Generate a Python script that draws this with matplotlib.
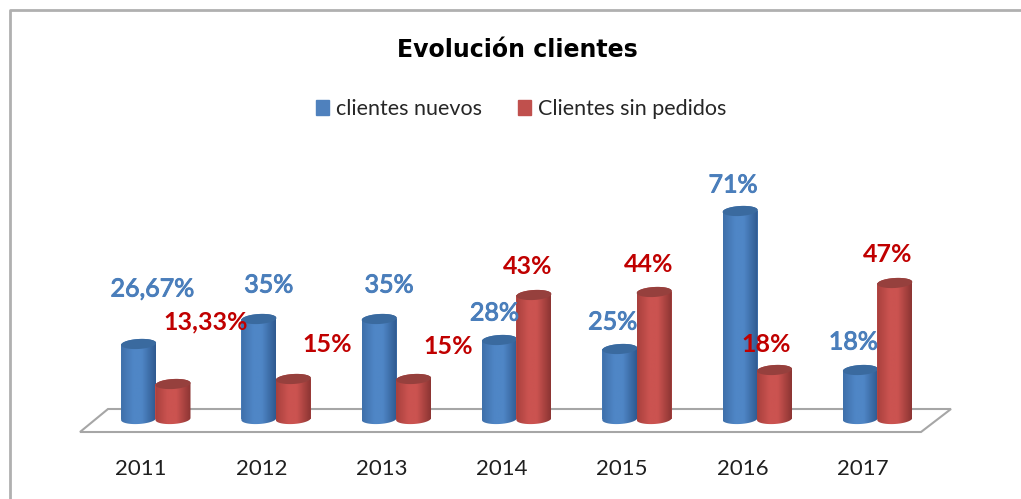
import numpy as np
import matplotlib
matplotlib.use("Agg")
import matplotlib.pyplot as plt
import matplotlib.patheffects as pe
from matplotlib.patches import Polygon, Patch
from matplotlib.lines import Line2D

years = ["2011", "2012", "2013", "2014", "2015", "2016", "2017"]
nuevos = [26.67, 35, 35, 28, 25, 71, 18]
sin_pedidos = [13.33, 15, 15, 43, 44, 18, 47]
nuevos_labels = ["26,67%", "35%", "35%", "28%", "25%", "71%", "18%"]
sin_pedidos_labels = ["13,33%", "15%", "15%", "43%", "44%", "18%", "47%"]

W, H = 1021, 499
PXX, PXY = 120.3, 3.0      # px per category, px per percent
nuevos_off = [(14, 55), (10, 34), (10, 34), (-5, 27), (-7, 27), (-7, 26), (-7, 28)]
sin_off = [(33, 62), (34, 35), (35, 33), (-6, 28), (-6, 27), (-8, 25), (-7, 28)]

plt.rcParams["font.family"] = ["Lato", "DejaVu Sans"]
fig = plt.figure(figsize=(W / 100, H / 100), dpi=100)
fig.patch.set_facecolor("white")

ax_l, ax_r, ax_t, ax_b = 60, 1000, 150, 440
ax = fig.add_axes([ax_l / W, 1 - ax_b / H, (ax_r - ax_l) / W, (ax_b - ax_t) / H])
ax.set_xlim((ax_l - 141) / PXX, (ax_r - 141) / PXX)
ax.set_ylim((424 - ax_b) / PXY, (424 - ax_t) / PXY)
ax.patch.set_alpha(0)
for s in ax.spines.values():
    s.set_visible(False)
ax.set_yticks([])
ax.set_xticks(range(len(years)), years)
ax.tick_params(axis="x", length=0, pad=14, labelsize=16, labelcolor="#1f1f1f")

# outer frame
fig.add_artist(Line2D([9.5 / W, 9.5 / W, 1], [0, 1 - 9.5 / H, 1 - 9.5 / H],
                      color="#b0b0b0", lw=2.0, transform=fig.transFigure))
# floor
floor = [(80, 432), (108, 409), (951, 409), (921, 432)]
fig.add_artist(Polygon([(x / W, 1 - y / H) for x, y in floor], closed=True, fc="white",
                       ec="#a6a6a6", lw=1.5, transform=fig.transFigure, zorder=0.5))
ax.set_zorder(2)

bar_w = 35 / PXX
ell_h = 10 / PXY
slant = 1.0 / PXY
base = 5.0 / PXY


def ell(cx, cy, t):
    return np.column_stack([cx + bar_w / 2 * np.cos(t),
                            cy + ell_h / 2 * np.sin(t) + slant * np.cos(t)])


def cylinder(cx, v, cols, top_col, z):
    ax.bar(cx, v - base, bar_w, bottom=base, color=cols[1], zorder=z)
    outline = np.vstack([ell(cx, base, np.linspace(np.pi, 2 * np.pi, 30)),
                         ell(cx, v, np.linspace(0, np.pi, 30))])
    clip = Polygon(outline, closed=True, transform=ax.transData, fc="none", ec="none")
    ax.add_patch(clip)
    cmap = matplotlib.colors.LinearSegmentedColormap.from_list(
        "c", [(0, cols[0]), (0.35, cols[1]), (0.6, cols[1]), (1, cols[2])])
    im = ax.imshow(np.linspace(0, 1, 64)[None, :], extent=(cx - bar_w / 2, cx + bar_w / 2, -ell_h, v + ell_h),
                   cmap=cmap, aspect="auto", zorder=z + 0.1, interpolation="bilinear")
    im.set_clip_path(clip)
    ax.add_patch(Polygon(ell(cx, v, np.linspace(0, 2 * np.pi, 50)), closed=True, fc=top_col,
                         ec="none", zorder=z + 0.2))


blue = ("#3f70aa", "#4f86c6", "#2f5a90")
red = ("#a8403d", "#cb5350", "#8c3533")
xlim, ylim = ax.get_xlim(), ax.get_ylim()
for i in range(len(years)):
    cylinder(i - 0.02, nuevos[i], blue, "#3a6a9f", 3 + i)
    cylinder(i + 0.266, sin_pedidos[i], red, "#96403d", 3.5 + i)
    ax.annotate(nuevos_labels[i], (i - 0.02, nuevos[i]), xytext=nuevos_off[i], textcoords="offset pixels",
                ha="center", va="center", color="#4a7ebb", fontsize=18, zorder=20,
                path_effects=[pe.withStroke(linewidth=0.7, foreground="#4a7ebb")])
    ax.annotate(sin_pedidos_labels[i], (i + 0.266, sin_pedidos[i]), xytext=sin_off[i], textcoords="offset pixels",
                ha="center", va="center", color="#c00000", fontsize=18, fontweight="bold", zorder=20)
ax.set_xlim(xlim)
ax.set_ylim(ylim)

fig.text(517.5 / W, 1 - 50 / H, "Evolución clientes", ha="center", va="center",
         fontsize=17, fontweight="bold", color="black", family="DejaVu Sans")
handles = [Patch(color="#4f81bd", label="clientes nuevos"), Patch(color="#c0504d", label="Clientes sin pedidos")]
fig.legend(handles=handles, ncol=2, frameon=False, loc="center", bbox_to_anchor=(521 / W, 1 - 109 / H),
           fontsize=15.5, handlelength=0.6, handleheight=0.75, handletextpad=0.33, columnspacing=1.67,
           labelcolor="#262626")
fig.savefig("out.png", dpi=100)
